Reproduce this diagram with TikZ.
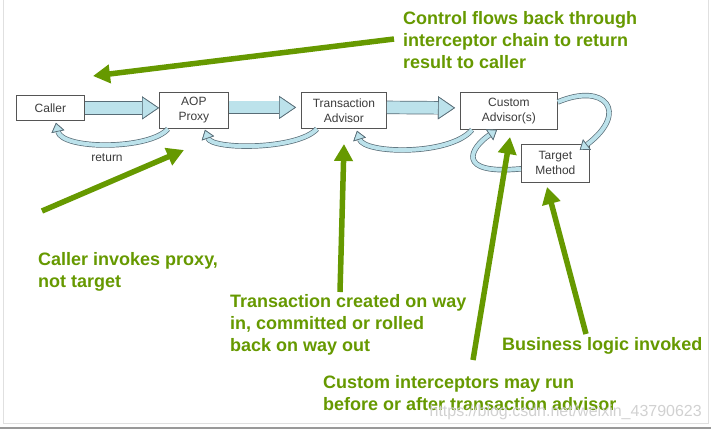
\documentclass[tikz,border=0pt]{standalone}
\usepackage{fontspec}
\setmainfont{Liberation Sans}
\usetikzlibrary{arrows.meta}

\definecolor{leaf}{RGB}{102,153,0}
\definecolor{pale}{RGB}{188,226,235}
\definecolor{rim}{RGB}{88,108,118}
\definecolor{boxline}{RGB}{85,85,85}
\definecolor{boxtext}{RGB}{60,60,60}

\tikzset{
	flow node/.style = {
		rectangle,
		draw = boxline,
		line width = 0.8pt,
		fill = white,
		text = boxtext,
		font = \fontsize{12}{15}\selectfont,
		align = center,
		inner sep = 0pt,
		anchor = north west
	},
	note node/.style = {
		text = leaf,
		font = \bfseries\fontsize{18}{22}\selectfont,
		align = left,
		inner sep = 0pt,
		anchor = north west
	},
	mark node/.style = {
		text = black!18,
		font = \fontsize{16}{18}\selectfont,
		inner sep = 0pt,
		anchor = base east
	},
	fwd arrow/.style = {
		pale,
		line width = 12pt,
		preaction = {draw = rim, line width = 13.4pt},
		-{Triangle[length=17pt, width=23pt, fill=pale, color=rim, line width=0.7pt]}
	},
	back arrow/.style = {
		pale,
		line width = 4pt,
		preaction = {draw = rim, line width = 5.4pt},
		-{Triangle[length=9pt, width=13pt, fill=pale, color=rim, line width=0.7pt]}
	},
	hint arrow/.style = {
		leaf,
		line width = 5.5pt,
		-{Triangle[length=17pt, width=18pt]}
	}
}

\begin{document}
\begin{tikzpicture}[x=1pt, y=-1pt]
	\useasboundingbox (0,0) rectangle (711,429);
	\draw[black!12, line width=1pt] (3,-2) rectangle (708,423);
	\draw[black!40, line width=1.2pt] (0,428) -- (711,428);

	\node at (16,95)  [flow node, minimum width=68pt, minimum height=25pt] (caller) {Caller};
	\node at (159,92) [flow node, minimum width=69pt, minimum height=36pt] (aop) {AOP\\Proxy};
	\node at (301,92) [flow node, minimum width=85pt, minimum height=36pt] (trans) {Transaction\\Advisor};
	\node at (460,92) [flow node, minimum width=97pt, minimum height=37pt] (custom) {Custom\\Advisor(s)};
	\node at (521,144) [flow node, minimum width=68pt, minimum height=38pt] (target) {Target\\Method};
	\node at (107,158) [text=boxtext, font=\fontsize{12}{14}\selectfont] (ret) {return};

	\draw[fwd arrow] (caller.east) -- (caller.east -| aop.west);
	\draw[fwd arrow] ([yshift=3pt]aop.east) -- ([yshift=3pt, xshift=-5pt]trans.west);
	\draw[fwd arrow] ([yshift=3pt]trans.east) -- ([yshift=3pt, xshift=-5pt]custom.west);

	\draw[back arrow] ([xshift=9pt]aop.south west) .. controls (150,150) and (62,150) .. ([xshift=40pt, yshift=-2pt]caller.south west);
	\draw[back arrow] ([xshift=16pt]trans.south west) .. controls (298,150) and (212,150) .. ([xshift=46pt, yshift=-1pt]aop.south west);
	\draw[back arrow] ([xshift=12pt]custom.south west) .. controls (450,156) and (364,154) .. ([xshift=56pt, yshift=-2pt]trans.south west);
	\draw[back arrow] ([yshift=-10pt]custom.north east) .. controls (605,82) and (630,112) .. ([xshift=-10pt, yshift=-6pt]target.north east);
	\draw[back arrow] ([yshift=14pt]target.south west) .. controls (455,175) and (470,148) .. ([xshift=37pt]custom.south west);

	\node at (403,11)  [note node] (flows) {Control flows back through\\interceptor chain to return\\result to caller};
	\node at (38,252)  [note node] (invokes) {Caller invokes proxy,\\not target};
	\node at (230,294) [note node] (created) {Transaction created on way\\in, committed or rolled\\back on way out};
	\node at (502,337) [note node] (logic) {Business logic invoked};
	\node at (323,375) [note node] (intercept) {Custom interceptors may run\\before or after transaction advisor};

	\coordinate (flows tail) at (394,39);
	\coordinate (flows tip) at (93,76);
	\coordinate (invokes tail) at (42,211);
	\coordinate (invokes tip) at (184,150);
	\coordinate (created tail) at (340,292);
	\coordinate (created tip) at (344,144);
	\coordinate (intercept tail) at (473,360);
	\coordinate (intercept tip) at (510,137);
	\coordinate (logic tail) at (586,334);
	\coordinate (logic tip) at (547,187);

	\draw[hint arrow] (flows tail) -- (flows tip);
	\draw[hint arrow] (invokes tail) -- (invokes tip);
	\draw[hint arrow] (created tail) -- (created tip);
	\draw[hint arrow] (intercept tail) -- (intercept tip);
	\draw[hint arrow] (logic tail) -- (logic tip);

	\node at (702,416) [mark node] (wm) {https://blog.csdn.net/weixin\_43790623};
\end{tikzpicture}
\end{document}
